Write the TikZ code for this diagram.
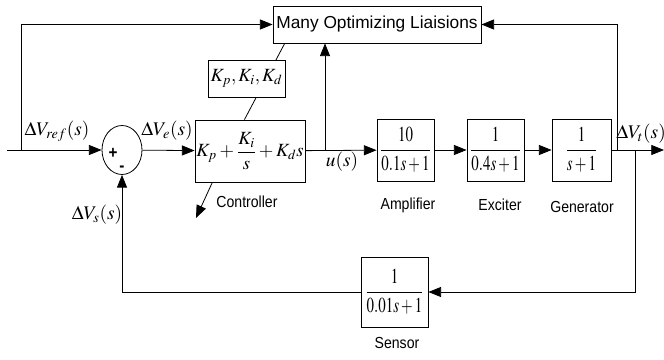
\documentclass[tikz,border=0pt]{standalone}
\usepackage{mathptmx}
\usepackage[no-math]{fontspec}
\usepackage{graphicx}
\newfontfamily\lblfont[FakeStretch=0.88]{Liberation Sans}
\newfontfamily\boxfont{Liberation Sans}
\newcommand{\nrw}[1]{\scalebox{0.7}[1]{\fontsize{16}{18}\selectfont$\displaystyle #1$}}
\usetikzlibrary{calc, arrows.meta, shapes.geometric}

\begin{document}
\begin{tikzpicture}[x=0.75pt, y=-0.75pt, line width=0.6pt,
  blk/.style={draw, inner sep=0pt, minimum width=#1, minimum height=46.5pt,
    font=\fontsize{14}{16}\selectfont},
  sumnode/.style={draw, ellipse, inner sep=0pt, minimum width=30pt, minimum height=36.75pt},
  sig/.style={inner sep=0pt, font=\fontsize{14.5}{16}\selectfont},
  lbl/.style={inner sep=0pt, font=\lblfont\fontsize{12}{14}\selectfont},
  sgn/.style={inner sep=0pt, font=\lblfont\bfseries\fontsize{13}{14}\selectfont},
  arr/.style={-{Triangle[length=9.5pt, width=7.5pt]}},
]
\useasboundingbox (0,0) rectangle (664,360);

\node[blk=156pt, minimum height=27.75pt, font=\boxfont\fontsize{13}{15}\selectfont] (opt) at (377,24.5) {Many Optimizing Liaisions};
\node[sumnode] (sum) at (122,150) {};
\node[blk=82.5pt] (ctrl) at (250,151) {$\displaystyle K_p+\frac{K_i}{s}+K_d s$};
\node[blk=42.75pt] (amp) at (405.5,150) {\nrw{\frac{10}{0.1s+1}}};
\node[blk=42.75pt] (exc) at (495.5,150) {\nrw{\frac{1}{0.4s+1}}};
\node[blk=44.25pt] (gen) at (581.5,150) {\nrw{\frac{1}{s+1}}};
\node[blk=50.25pt, minimum height=52.5pt] (sens) at (394.5,292) {\nrw{\frac{1}{0.01s+1}}};

% signs in the summing point
\node[sgn] (plus) at (113,153) {+};
\node[sgn] (minus) at (122,169) {-};

% signal names
\node[sig] (lref) at (57,131) {$\Delta V_{ref}(s)$};
\node[sig] (le) at (167,131) {$\Delta V_e(s)$};
\node[sig] (lu) at (342,162) {$u(s)$};
\node[sig] (lt) at (641,134) {$\Delta V_t(s)$};
\node[sig] (ls) at (97,215) {$\Delta V_s(s)$};

% block names
\node[lbl] (tctrl) at (247,202) {Controller};
\node[lbl] (tamp) at (408,205) {Amplifier};
\node[lbl] (texc) at (500,205) {Exciter};
\node[lbl] (tgen) at (582,207) {Generator};
\node[lbl] (tsens) at (397,343) {Sensor};

\coordinate (in) at (7,150);
\coordinate (tapin) at (21,150);
\coordinate (tapu) at (325,150);
\coordinate (tapt) at (617,150);
\coordinate (tapfb) at (635,150);
\coordinate (out) at (664,150);
\coordinate (ctrlarr) at (196,218);

\draw[arr] (in) -- (sum);
\draw[arr] (tapin) |- (opt.west);
\draw[arr] (sum) -- (ctrl);
\draw[arr] (ctrl) -- (amp);
\draw[arr] (tapu) -- (tapu |- opt.south);
\draw[arr] (amp) -- (exc);
\draw[arr] (exc) -- (gen);
\draw[arr] (gen) -- (out);
\draw[arr] (tapt) |- (opt.east);
\draw[arr] (tapfb) |- (sens.east);
\draw[arr] (sens.west) -| (sum.south);
\draw[arr] ($(ctrl.south west)!0.16!(ctrl.south east)$) -- (ctrlarr);

% tuning link, gains box on top of it
\draw ($(opt.south west)!0.058!(opt.south east)$) -- ($(ctrl.north west)!0.45!(ctrl.north east)$);
\node[blk=57.75pt, minimum height=27.75pt, fill=white] (gains) at (246.5,78.5) {$K_p,K_i,K_d$};
\end{tikzpicture}
\end{document}
